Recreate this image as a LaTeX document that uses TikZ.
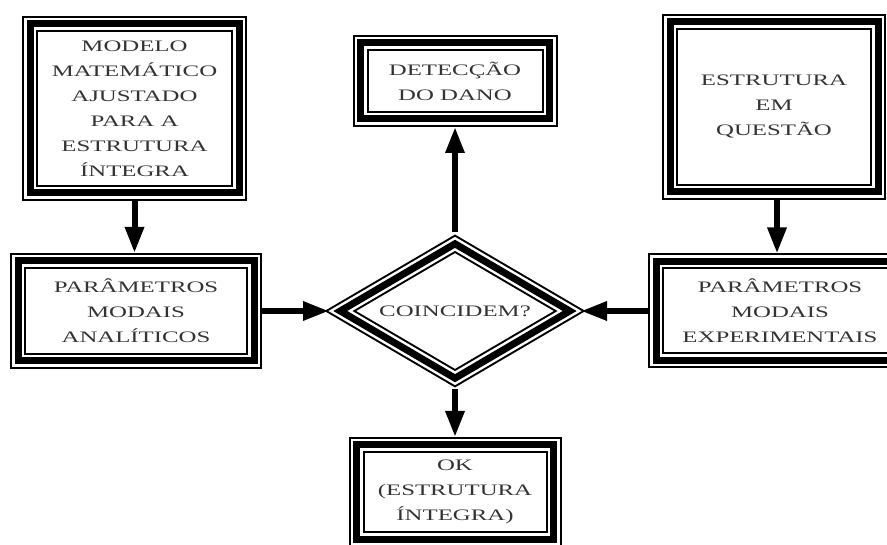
\documentclass[tikz,border=0pt]{standalone}
\usepackage{fontspec}
\usetikzlibrary{shapes.geometric,arrows.meta}
\newfontfamily\boxfont[FakeStretch=1.55]{Liberation Serif}
\newcommand\boxtext{\boxfont\fontsize{16}{25}\selectfont}
\begin{document}
\begin{tikzpicture}[x=1pt, y=-1pt,
        main/.style = {draw, line width=16pt, inner sep=0pt, align=center,
            text=black!80, font=\boxtext,
            postaction={draw=white, line width=12pt},
            postaction={draw=black, line width=7pt}},
        arr/.style = {line width=6pt, -{Triangle[length=26pt, width=18pt]}}]
        \useasboundingbox (0,0) rectangle (887,545);
        \node[main, minimum width=209pt, minimum height=169pt] (model) at (134.5,108.5) {MODELO\\MATEMÁTICO\\AJUSTADO\\PARA A\\ESTRUTURA\\ÍNTEGRA};
        \node[main, minimum width=236pt, minimum height=100pt] (analit) at (136,311) {PARÂMETROS\\MODAIS\\ANALÍTICOS};
        \node[main, diamond, shape aspect=1.7, minimum width=236pt, minimum height=141pt] (dec) at (455,311) {COINCIDEM?};
        \node[main, minimum width=189pt, minimum height=76pt] (detec) at (455,81) {DETECÇÃO\\DO DANO};
        \node[main, minimum width=208pt, minimum height=170pt] (estrut) at (774,107) {ESTRUTURA\\EM\\QUESTÃO};
        \node[main, minimum width=248pt, minimum height=99pt] (exper) at (780,311) {PARÂMETROS\\MODAIS\\EXPERIMENTAIS};
        \node[main, minimum width=197pt, minimum height=94pt] (ok) at (455,492) {OK\\(ESTRUTURA\\ÍNTEGRA)};
        \draw[arr] (model.south) -- (model.south |- analit.north);
        \draw[arr] ([xshift=3pt]estrut.south) -- ([xshift=3pt]estrut.south |- exper.north);
        \draw[arr] (analit.east) -- (dec.west);
        \draw[arr] (exper.west) -- (dec.east);
        \draw[arr] (dec.north) -- (detec.south);
        \draw[arr] (dec.south) -- (ok.north);
    \end{tikzpicture}
\end{document}
